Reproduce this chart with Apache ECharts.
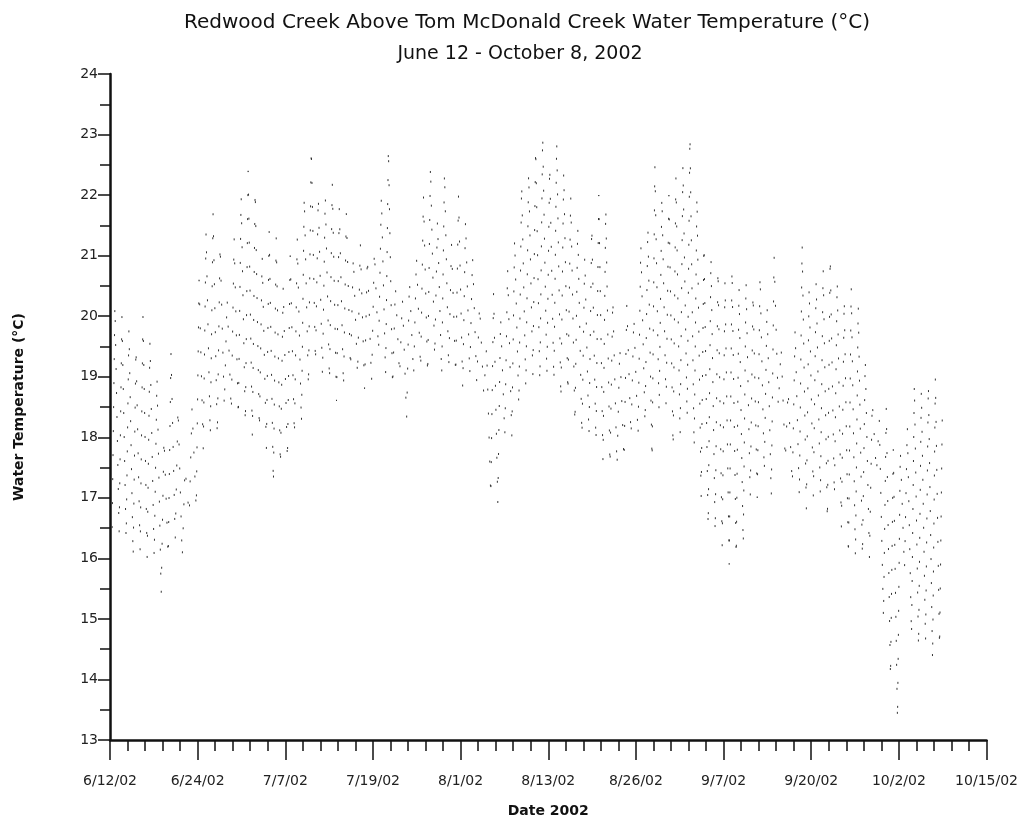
<!DOCTYPE html>
<html>
<head>
<meta charset="utf-8">
<script src="https://cdn.jsdelivr.net/npm/echarts@6/dist/echarts.min.js"></script>
<style>
  html, body { margin: 0; padding: 0; background: #fff; }
  #chart { width: 1021px; height: 826px; }
</style>
</head>
<body>
<div id="chart"></div>
<script>
// tick labels of the date axis (one every 12.5 days from 6/12/02)
var dateTicks = ['6/12/02', '6/24/02', '7/7/02', '7/19/02', '8/1/02', '8/13/02',
                 '8/26/02', '9/7/02', '9/20/02', '10/2/02', '10/15/02'];

// daily maximum water temperature (°C), June 12 .. October 8, 2002
var dailyMax = [
    20.2, 20.0, 19.8, 19.5, 20.0, 19.6, 19.0, 18.0, 19.4, 18.5,
    17.5, 18.5, 20.6, 21.4, 21.7, 21.2, 20.3, 21.3, 22.0, 22.4,
    22.1, 21.0, 21.4, 21.3, 20.5, 21.0, 21.3, 22.0, 22.8, 22.0,
    22.0, 22.2, 21.8, 21.7, 21.0, 21.2, 21.0, 21.1, 22.0, 22.8,
    20.5, 20.3, 20.6, 21.0, 22.0, 22.5, 21.6, 22.4, 21.2, 22.0,
    21.6, 21.0, 20.2, 19.5, 20.4, 20.0, 20.8, 21.3, 22.2, 22.4,
    22.8, 23.0, 22.5, 22.9, 22.4, 22.0, 21.5, 21.0, 21.5, 22.0,
    21.8, 20.3, 19.5, 20.2, 20.0, 21.2, 21.5, 22.5, 22.0, 22.0,
    22.3, 22.5, 23.0, 22.0, 21.2, 21.0, 20.8, 20.6, 20.8, 20.5,
    20.6, 20.4, 20.7, 20.2, 21.0, 19.5, 18.8, 19.8, 21.2, 20.5,
    20.6, 20.8, 21.0, 20.6, 20.3, 20.5, 20.2, 19.3, 18.6, 18.3,
    18.5, 17.8, 17.8, 18.2, 18.9, 18.8, 18.9, 19.0, 18.5
];

// daily minimum water temperature (°C)
var dailyMin = [
    16.5, 16.4, 16.3, 16.0, 16.1, 16.0, 16.0, 15.4, 16.0, 16.3,
    16.0, 16.7, 16.8, 17.8, 18.0, 18.0, 18.5, 18.4, 18.3, 18.2,
    18.0, 18.1, 17.8, 17.2, 17.5, 17.6, 18.0, 18.2, 18.8, 19.2,
    19.0, 18.9, 18.6, 18.8, 19.1, 19.0, 18.8, 18.9, 19.4, 19.0,
    18.8, 19.0, 18.3, 19.0, 19.1, 19.0, 19.3, 19.0, 19.1, 19.0,
    18.8, 19.0, 18.9, 18.7, 17.0, 16.9, 18.0, 18.0, 18.5, 18.8,
    19.0, 18.9, 19.0, 18.9, 18.6, 18.7, 18.2, 18.0, 18.0, 17.9,
    17.6, 17.5, 17.5, 17.6, 18.0, 18.0, 18.2, 17.6, 18.4, 18.5,
    17.8, 18.0, 18.3, 17.8, 17.0, 16.5, 16.4, 16.2, 15.9, 16.0,
    16.2, 17.0, 17.0, 17.4, 17.0, 18.5, 17.6, 17.2, 17.0, 16.8,
    17.0, 17.0, 16.6, 17.0, 16.5, 16.0, 16.0, 16.0, 16.0, 17.4,
    15.0, 14.0, 13.3, 15.8, 14.7, 14.5, 14.6, 14.3, 14.5
];

// morning low then afternoon high for each day
var tempData = [];
for (var i = 0; i < dailyMax.length; i++) {
    tempData.push([i + 0.3, dailyMin[i]]);
    tempData.push([i + 0.7, dailyMax[i]]);
}

var myChart = echarts.init(document.getElementById('chart'));

var axisFont = 'DejaVu Sans';

var option = {
    backgroundColor: '#fff',
    animation: false,
    title: [{
        text: 'Redwood Creek Above Tom McDonald Creek Water Temperature (°C)',
        left: 522,
        top: 8,
        textAlign: 'center',
        textStyle: { fontFamily: axisFont, fontSize: 20, fontWeight: 'normal', color: '#111' }
    }, {
        text: 'June 12 - October 8, 2002',
        left: 515,
        top: 40,
        textAlign: 'center',
        textStyle: { fontFamily: axisFont, fontSize: 19, fontWeight: 'normal', color: '#111' }
    }],
    grid: {
        left: 110,
        right: 34,
        top: 74,
        bottom: 86
    },
    xAxis: {
        type: 'value',
        min: 0,
        max: 125,
        interval: 12.5,
        name: 'Date 2002',
        nameLocation: 'middle',
        nameGap: 64,
        nameTextStyle: { fontFamily: axisFont, fontSize: 14, fontWeight: 'bold', color: '#111' },
        axisLine: { onZero: false, lineStyle: { color: '#111', width: 2.5 } },
        axisTick: { length: 20, lineStyle: { color: '#111', width: 1.5 } },
        minorTick: { show: true, splitNumber: 5, length: 11, lineStyle: { color: '#111', width: 1.5 } },
        splitLine: { show: false },
        axisLabel: {
            margin: 34,
            fontFamily: axisFont,
            fontSize: 14,
            color: '#222',
            formatter: function (v) {
                return dateTicks[Math.round(v / 12.5)];
            }
        }
    },
    yAxis: {
        type: 'value',
        min: 13,
        max: 24,
        interval: 1,
        name: 'Water Temperature (°C)',
        nameLocation: 'middle',
        nameGap: 84,
        nameTextStyle: { fontFamily: axisFont, fontSize: 14, fontWeight: 'bold', color: '#111' },
        axisLine: { onZero: false, lineStyle: { color: '#111', width: 2.5 } },
        axisTick: { length: 12, lineStyle: { color: '#111', width: 1.5 } },
        minorTick: { show: true, splitNumber: 2, length: 10, lineStyle: { color: '#111', width: 1.5 } },
        splitLine: { show: false },
        axisLabel: {
            margin: 12,
            fontFamily: axisFont,
            fontSize: 14,
            color: '#222'
        }
    },
    series: [{
        type: 'line',
        data: tempData,
        showSymbol: false,
        lineStyle: { color: '#333', width: 1, type: [2, 22] }
    }]
};

myChart.setOption(option);

window.addEventListener('resize', function () {
    myChart.resize();
});
</script>
</body>
</html>
